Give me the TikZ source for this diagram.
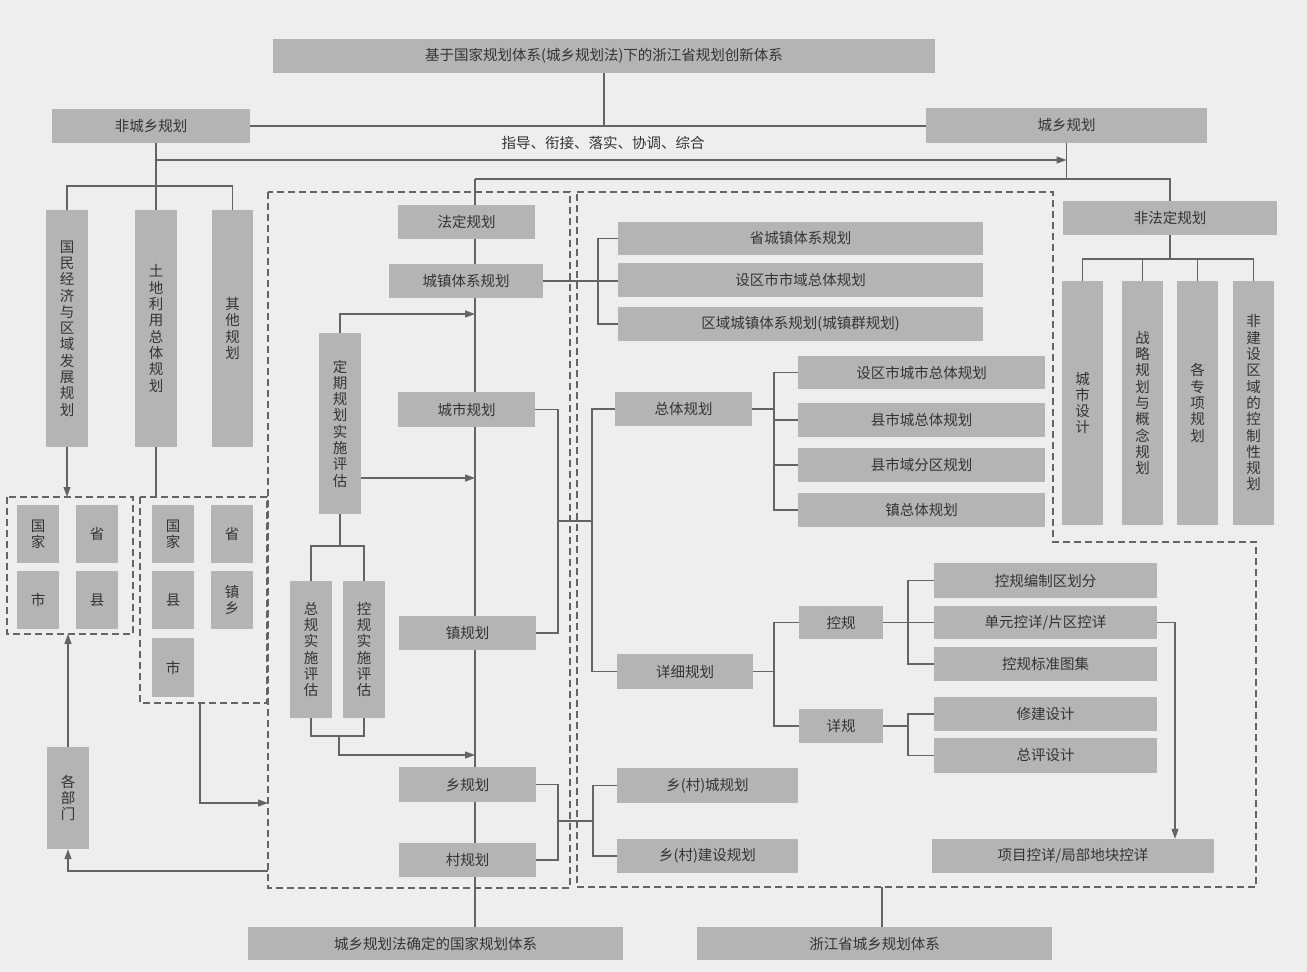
\documentclass[tikz,border=0pt]{standalone}
\usepackage{fontspec}
\newfontfamily\cjk{Noto Sans CJK SC}
\usetikzlibrary{arrows.meta}
\definecolor{bgc}{RGB}{238,238,238}
\definecolor{boxc}{RGB}{180,180,180}
\definecolor{txtc}{RGB}{52,52,52}
\definecolor{linec}{RGB}{100,100,100}
\pgfdeclarelayer{back}
\pgfdeclarelayer{bg}
\pgfsetlayers{back,bg,main}
\newcommand{\bx}[6]{\node[box, minimum width={(#4-#2)*1pt}, minimum height={(#5-#3)*1pt}] (#1) at ({(#2+#4)/2},{-(#3+#5)/2}) {#6};}
\begin{document}
\begin{tikzpicture}[x=1pt,y=1pt,
 box/.style={fill=boxc, draw=none, inner sep=0pt, text=txtc, align=center, font=\cjk\fontsize{14.5}{16.3}\selectfont},
 lbl/.style={inner sep=0pt, text=txtc, font=\cjk\fontsize{14.5}{16.3}\selectfont},
 ln/.style={draw=linec, line width=1.2pt},
 arr/.style={ln, -{Triangle[length=10pt,width=7pt]}},
 dsh/.style={draw=linec, line width=1.2pt, dash pattern=on 7pt off 4pt}]
\useasboundingbox (0,0) rectangle (1307,-972);
\begin{pgfonlayer}{back}
\fill[bgc] (0,0) rectangle (1307,-972);
\end{pgfonlayer}
% boxes
\bx{top}{273}{39}{935}{73}{基于国家规划体系(城乡规划法)下的浙江省规划创新体系}
\bx{fcx}{52}{109}{250}{143}{非城乡规划}
\bx{cx}{926}{108}{1207}{143}{城乡规划}
\node[lbl] (zd) at (603,-143) {指导、衔接、落实、协调、综合};
\bx{gmjj}{46}{210}{88}{447}{国\\民\\经\\济\\与\\区\\域\\发\\展\\规\\划}
\bx{tdly}{135}{210}{177}{447}{土\\地\\利\\用\\总\\体\\规\\划}
\bx{qtgh}{212}{210}{253}{447}{其\\他\\规\\划}
\bx{a1}{17}{505}{59}{563}{国\\家}
\bx{a2}{76}{505}{118}{563}{省}
\bx{a3}{17}{571}{59}{629}{市}
\bx{a4}{76}{571}{118}{629}{县}
\bx{b1}{152}{505}{194}{563}{国\\家}
\bx{b2}{211}{505}{253}{563}{省}
\bx{b3}{152}{571}{194}{629}{县}
\bx{b4}{211}{571}{253}{629}{镇\\乡}
\bx{b5}{152}{638}{194}{697}{市}
\bx{bm}{47}{747}{89}{849}{各\\部\\门}
\bx{dq}{319}{333}{361}{514}{定\\期\\规\\划\\实\\施\\评\\估}
\bx{gz}{290}{581}{332}{718}{总\\规\\实\\施\\评\\估}
\bx{kz}{343}{581}{385}{718}{控\\规\\实\\施\\评\\估}
\bx{fd}{398}{205}{535}{239}{法定规划}
\bx{cztx}{389}{264}{543}{298}{城镇体系规划}
\bx{csgh}{398}{392}{535}{427}{城市规划}
\bx{zgh}{399}{616}{536}{650}{镇规划}
\bx{xgh}{399}{767}{536}{802}{乡规划}
\bx{cgh}{399}{843}{536}{877}{村规划}
\bx{sczt}{618}{222}{983}{255}{省城镇体系规划}
\bx{sqsy}{618}{263}{983}{297}{设区市市域总体规划}
\bx{qycz}{618}{307}{983}{341}{区域城镇体系规划(城镇群规划)}
\bx{ztgh}{615}{392}{752}{426}{总体规划}
\bx{sqcs}{798}{356}{1045}{389}{设区市城市总体规划}
\bx{xszt}{798}{403}{1045}{437}{县市城总体规划}
\bx{xsfq}{798}{448}{1045}{482}{县市域分区规划}
\bx{zzt}{798}{493}{1045}{527}{镇总体规划}
\bx{xxgh}{617}{654}{753}{689}{详细规划}
\bx{kg}{799}{606}{883}{639}{控规}
\bx{xg}{799}{709}{883}{743}{详规}
\bx{kgbz}{934}{563}{1157}{598}{控规编制区划分}
\bx{dykx}{934}{606}{1157}{639}{单元控详/片区控详}
\bx{kgtj}{934}{647}{1157}{681}{控规标准图集}
\bx{xjsj}{934}{697}{1157}{731}{修建设计}
\bx{zpsj}{934}{738}{1157}{773}{总评设计}
\bx{xmkx}{932}{839}{1214}{873}{项目控详/局部地块控详}
\bx{xccg}{617}{768}{798}{803}{乡(村)城规划}
\bx{xcjs}{617}{839}{798}{873}{乡(村)建设规划}
\bx{ffd}{1063}{201}{1277}{235}{非法定规划}
\bx{csj}{1062}{281}{1103}{525}{城\\市\\设\\计}
\bx{zlgh}{1122}{281}{1163}{525}{战\\略\\规\\划\\与\\概\\念\\规\\划}
\bx{gzx}{1177}{281}{1218}{525}{各\\专\\项\\规\\划}
\bx{fjs}{1233}{281}{1274}{525}{非\\建\\设\\区\\域\\的\\控\\制\\性\\规\\划}
\bx{gjtx}{248}{927}{623}{960}{城乡规划法确定的国家规划体系}
\bx{zjtx}{697}{927}{1052}{960}{浙江省城乡规划体系}
% coordinates
\coordinate (j1) at (475,-179);
\coordinate (j2) at (1170,-259);
\coordinate (j3) at (0,-186);
\coordinate (ar1) at (0,-160);
\coordinate (d1t) at (67,-497);
\coordinate (d1b) at (0,-634);
\coordinate (d2b) at (200,-703);
\coordinate (d2e) at (268,-803);
\coordinate (d3s) at (268,-871);
\coordinate (e1) at (0,-314);
\coordinate (e2) at (0,-478);
\coordinate (e3) at (0,-546);
\coordinate (e4) at (0,-736);
\coordinate (e5) at (339,-736);
\coordinate (e6) at (0,-755);
\coordinate (b1x) at (598,0);
\coordinate (b2x) at (558,-521);
\coordinate (b3x) at (592,0);
\coordinate (b4x) at (774,0);
\coordinate (b5x) at (908,0);
\coordinate (b6x) at (1175,0);
\coordinate (b7) at (558,-821);
\coordinate (b8x) at (593,0);
\coordinate (f1) at (882,-887);
\begin{pgfonlayer}{bg}
% dashed frames
\draw[dsh] (7,-497) rectangle (133,-634);
\draw[dsh] (140,-497) rectangle (267,-703);
\draw[dsh] (268,-192) rectangle (570,-888);
\draw[dsh] (577,-192) -- (1053,-192) -- (1053,-542) -- (1256,-542) -- (1256,-887) -- (577,-887) -- cycle;
% top
\draw[ln] (top.south) -- (top.south |- fcx.east);
\draw[ln] (fcx.east) -- (fcx.east -| cx.west);
\draw[ln] (tdly.north) -- (tdly.north |- fcx.south);
\draw[ln] (gmjj.north) -- (gmjj.north |- j3) -- (qtgh.north |- j3) -- (qtgh.north);
\draw[arr] (tdly.north |- ar1) -- (cx.south |- ar1);
\draw[ln] (cx.south) -- (cx.south |- j1);
\draw[ln] (j1) -- (j1 -| ffd.north) -- (ffd.north);
\draw[ln] (j1) -- (j1 |- gjtx.north);
% non-statutory
\draw[ln] (ffd.south) -- (ffd.south |- j2);
\draw[ln] (csj.north) -- (csj.north |- j2) -- (fjs.north |- j2) -- (fjs.north);
\draw[ln] (zlgh.north) -- (zlgh.north |- j2);
\draw[ln] (gzx.north) -- (gzx.north |- j2);
% left side
\draw[arr] (gmjj.south) -- (gmjj.south |- d1t);
\draw[ln] (tdly.south) -- (tdly.south |- d1t);
\draw[arr] (bm.north) -- (bm.north |- d1b);
\draw[arr] (d2b) |- (d2e);
\draw[arr] (d3s) -| (bm.south);
% evaluation
\draw[arr] (dq.north) -- (dq.north |- e1) -- (e1 -| j1);
\draw[arr] (dq.east |- e2) -- (e2 -| j1);
\draw[ln] (dq.south) -- (dq.south |- e3);
\draw[ln] (gz.north) -- (gz.north |- e3) -- (kz.north |- e3) -- (kz.north);
\draw[ln] (gz.south) -- (gz.south |- e4) -- (kz.south |- e4) -- (kz.south);
\draw[arr] (e5) -- (e5 |- e6) -- (e6 -| j1);
% middle brackets
\draw[ln] (cztx.east) -- (cztx.east -| sqsy.west);
\draw[ln] (sczt.west) -- (sczt.west -| b1x) -- (qycz.west -| b1x) -- (qycz.west);
\draw[ln] (csgh.east) -- (csgh.east -| b2x) -- (zgh.east -| b2x) -- (zgh.east);
\draw[ln] (b2x) -- (b2x -| b3x);
\draw[ln] (ztgh.west) -- (ztgh.west -| b3x) -- (xxgh.west -| b3x) -- (xxgh.west);
\draw[ln] (ztgh.east) -- (ztgh.east -| b4x);
\draw[ln] (sqcs.west) -- (sqcs.west -| b4x) -- (zzt.west -| b4x) -- (zzt.west);
\draw[ln] (xszt.west) -- (xszt.west -| b4x);
\draw[ln] (xsfq.west) -- (xsfq.west -| b4x);
\draw[ln] (xxgh.east) -- (xxgh.east -| b4x);
\draw[ln] (kg.west) -- (kg.west -| b4x) -- (xg.west -| b4x) -- (xg.west);
\draw[ln] (kg.east) -- (kg.east -| b5x);
\draw[ln] (kgbz.west) -- (kgbz.west -| b5x) -- (kgtj.west -| b5x) -- (kgtj.west);
\draw[ln] (dykx.west) -- (dykx.west -| b5x);
\draw[ln] (xg.east) -- (xg.east -| b5x);
\draw[ln] (xjsj.west) -- (xjsj.west -| b5x) -- (zpsj.west -| b5x) -- (zpsj.west);
\draw[arr] (dykx.east) -- (dykx.east -| b6x) -- (xmkx.north -| b6x);
\draw[ln] (xgh.east) -- (xgh.east -| b7) -- (cgh.east -| b7) -- (cgh.east);
\draw[ln] (b7) -- (b7 -| b8x);
\draw[ln] (xccg.west) -- (xccg.west -| b8x) -- (xcjs.west -| b8x) -- (xcjs.west);
\draw[ln] (f1) -- (f1 |- zjtx.north);
\end{pgfonlayer}
\end{tikzpicture}
\end{document}
